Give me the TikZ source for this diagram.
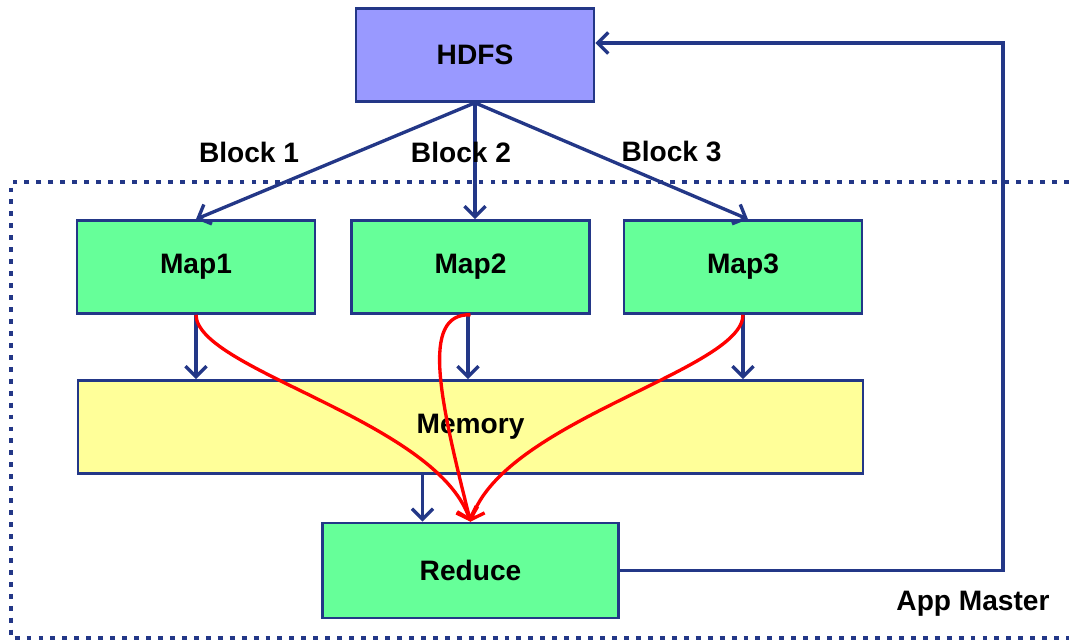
\documentclass[tikz,border=0pt]{standalone}
\usepackage{fontspec}
\setmainfont{Liberation Sans}
\usepackage{tikz}
\usetikzlibrary{shapes.geometric, arrows.meta}

\definecolor{navy}{RGB}{35,55,135}
\definecolor{hdfsblue}{RGB}{153,153,255}
\definecolor{taskgreen}{RGB}{102,255,153}
\definecolor{memyellow}{RGB}{255,255,153}

\begin{document}
\begin{tikzpicture}[node distance=2cm, font=\fontsize{16}{19}\selectfont\bfseries]

\tikzstyle{storage} = [rectangle, minimum width=4.76cm, minimum height=1.86cm, text centered, draw=navy, line width=1.5pt, fill=hdfsblue]
\tikzstyle{task} = [rectangle, minimum width=4.76cm, minimum height=1.86cm, text centered, draw=navy, line width=1.5pt, fill=taskgreen]
\tikzstyle{buffer} = [rectangle, minimum width=15.7cm, minimum height=1.86cm, text centered, draw=navy, line width=1.5pt, fill=memyellow]
\tikzstyle{arrow} = [draw=navy, line width=1.9pt, -{Straight Barb[length=6pt, width=12pt]}]
\tikzstyle{shuffle} = [draw=red, line width=1.9pt, -{Straight Barb[length=6pt, width=12pt]}]

\useasboundingbox (0,0) rectangle (21.38,-12.82);

% app master frame
\draw [navy, line width=2.2pt, dash pattern=on 2.8pt off 4pt] (21.38,-3.64) -- (0.22,-3.64) -- (0.22,-12.76) -- (21.38,-12.76);

\node (H) [storage] at (9.5,-1.1) {HDFS};
\node (M2) [task, below of=H, node distance=4.24cm, xshift=-0.09cm] {Map2};
\node (M1) [task, left of=M2, node distance=5.49cm] {Map1};
\node (M3) [task, right of=M2, node distance=5.45cm] {Map3};
\node (Mem) [buffer, below of=M2, node distance=3.2cm] {Memory};
\node (R) [task, below of=Mem, node distance=2.87cm, minimum width=5.92cm, minimum height=1.9cm] {Reduce};
\node (AM) at (19.46,-12.08) {App Master};
\coordinate (back) at (20.06,-0.86);

\draw [arrow] (H.south) -- node[pos=0.81, yshift=0.9cm, text=black] {Block 1} (M1.north);
\draw [arrow] (H.south) -- node[pos=0.43, xshift=-0.28cm, text=black] {Block 2} (H.south |- M2.north);
\draw [arrow] (H.south) -- node[pos=0.72, yshift=0.7cm, text=black] {Block 3} ([xshift=0.1cm]M3.north);

\draw [arrow] (M1.south) -- (M1.south |- Mem.north);
\draw [arrow] ([xshift=-0.05cm]M2.south) -- ([xshift=-0.05cm]M2.south |- Mem.north);
\draw [arrow] (M3.south) -- (M3.south |- Mem.north);
\draw [arrow] ([xshift=-0.96cm]R.north |- Mem.south) -- ([xshift=-0.96cm]R.north);

\draw [shuffle] (M1.south) .. controls (3.94,-7.4) and (8.7,-8.4) .. (R.north);
\draw [shuffle] (M2.south) .. controls (8.4,-6.26) and (8.8,-8.0) .. (R.north);
\draw [shuffle] (M3.south) .. controls (14.86,-7.4) and (10.1,-8.4) .. (R.north);

\draw [arrow] (R.east) -| (back) -- (back -| H.east);

\end{tikzpicture}
\end{document}
